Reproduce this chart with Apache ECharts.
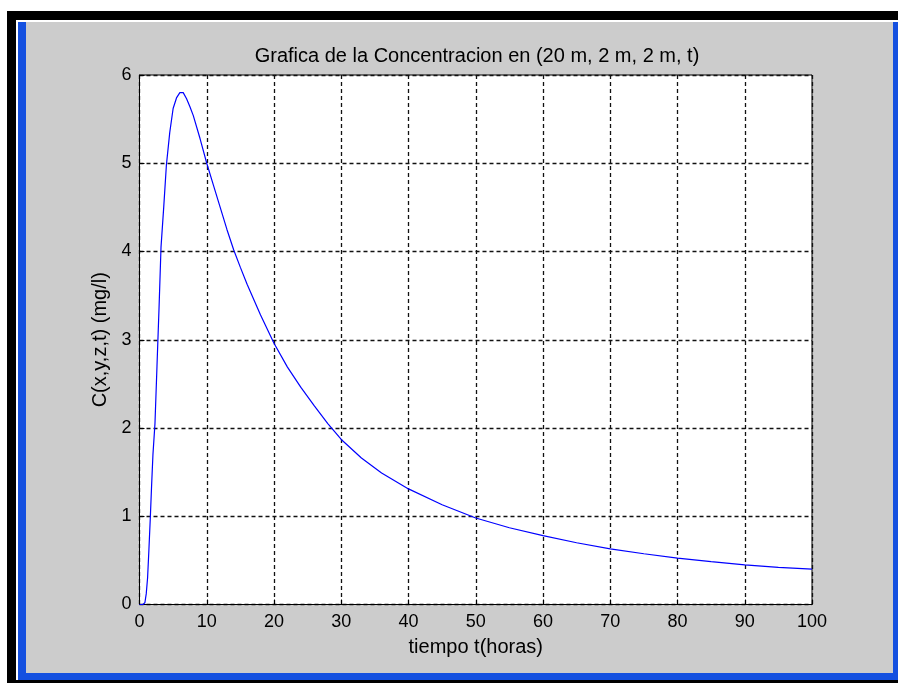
<!DOCTYPE html>
<html>
<head>
<meta charset="utf-8">
<script src="https://cdn.jsdelivr.net/npm/echarts@6/dist/echarts.min.js"></script>
<style>
  html, body { margin: 0; padding: 0; background: #fff; }
  #chart { width: 898px; height: 683px; }
</style>
</head>
<body>
<div id="chart"></div>
<script>
// tiempo (horas) y concentracion (mg/l)
var tiempo = [0, 0.5, 0.8, 1, 1.2, 1.4, 1.6, 1.8, 2, 2.3, 2.6, 2.9, 3.2, 3.6, 4, 4.5, 5, 5.5, 6, 6.5, 7, 7.5, 8, 9, 10,
  11, 12, 13, 14, 15, 16, 18, 20, 22, 24, 26, 28, 30, 33, 36, 40, 45, 50, 55, 60, 65, 70, 75, 80, 85, 90, 95, 100];
var concentracion = [0, 0, 0.02, 0.12, 0.3, 0.62, 0.97, 1.35, 1.7, 2.05, 2.7, 3.35, 4.05, 4.5, 4.98, 5.35, 5.62, 5.74, 5.8, 5.8, 5.73, 5.64, 5.54, 5.28, 5.0,
  4.75, 4.5, 4.25, 4.02, 3.82, 3.63, 3.28, 2.96, 2.69, 2.46, 2.25, 2.05, 1.87, 1.66, 1.49, 1.31, 1.13, 0.98, 0.87, 0.78, 0.7, 0.63, 0.575, 0.525, 0.485, 0.45, 0.42, 0.4];

var titulo = 'Grafica de la Concentracion en (20 m, 2 m, 2 m, t)';
var nombreX = 'tiempo t(horas)';
var nombreY = 'C(x,y,z,t) (mg/l)';

var myChart = echarts.init(document.getElementById('chart'));

var puntos = tiempo.map(function (t, i) { return [t, concentracion[i]]; });
var fuente = 'Liberation Sans';

var option = {
  backgroundColor: '#fff',
  animation: false,
  // marco de la ventana
  graphic: [
    { type: 'rect', z: -10, silent: true, shape: { x: 7, y: 11, width: 891, height: 672 }, style: { fill: '#000' } },
    { type: 'rect', z: -9, silent: true, shape: { x: 16, y: 20, width: 882, height: 660 }, style: { fill: '#fff' } },
    { type: 'rect', z: -8, silent: true, shape: { x: 18, y: 22, width: 880, height: 658 }, style: { fill: '#1450e0' } },
    { type: 'rect', z: -7, silent: true, shape: { x: 26, y: 22, width: 867, height: 651 }, style: { fill: '#cccccc' } }
  ],
  title: {
    text: titulo,
    left: 472,
    textAlign: 'center',
    top: 41,
    textStyle: { fontFamily: fuente, fontSize: 20, fontWeight: 'normal', color: '#000' }
  },
  grid: {
    left: 139.5, top: 75, right: 86, bottom: 78.5,
    show: true, backgroundColor: '#fff', borderColor: '#000', borderWidth: 1
  },
  xAxis: {
    type: 'value', min: 0, max: 100, interval: 10,
    name: nombreX, nameLocation: 'middle', nameGap: 33,
    nameTextStyle: { fontFamily: fuente, fontSize: 20, color: '#000' },
    axisLine: { lineStyle: { color: '#000' } },
    axisTick: { inside: true, length: 5, lineStyle: { color: '#000' } },
    axisLabel: { margin: 9, fontFamily: fuente, fontSize: 18, color: '#000' },
    splitLine: { show: true, lineStyle: { color: '#111', type: [4, 3], width: 1.3 } }
  },
  yAxis: {
    type: 'value', min: 0, max: 6, interval: 1,
    name: nombreY, nameLocation: 'middle', nameGap: 29, nameRotate: 90,
    nameTextStyle: { fontFamily: fuente, fontSize: 20, color: '#000' },
    axisLine: { show: true, lineStyle: { color: '#000' } },
    axisTick: { show: true, inside: true, length: 5, lineStyle: { color: '#000' } },
    axisLabel: { margin: 8, fontFamily: fuente, fontSize: 18, color: '#000' },
    splitLine: { show: true, lineStyle: { color: '#111', type: [4, 3], width: 1.3 } }
  },
  series: [{
    type: 'line',
    data: puntos,
    showSymbol: false,
    smooth: false,
    lineStyle: { color: '#0000ff', width: 1.2 },
    z: 3
  }]
};

myChart.setOption(option);
</script>
</body>
</html>
